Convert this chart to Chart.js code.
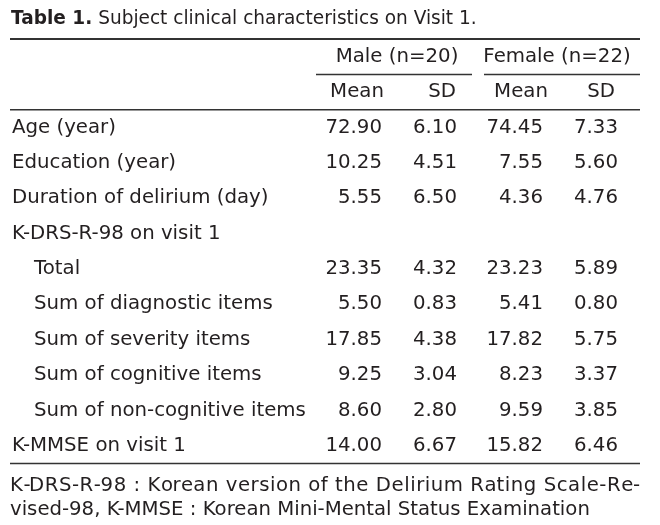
<!DOCTYPE html>
<html>
<head>
<meta charset="utf-8">
<script src="https://cdn.jsdelivr.net/npm/chart.js@4.4.1/dist/chart.umd.min.js"></script>
<style>
  body { margin: 0; background: #fff; }
  canvas { display: block; }
</style>
</head>
<body>
<canvas id="tableChart" width="660" height="525"></canvas>
<script>
// table contents
let rowLabels = ["Age (year)", "Education (year)", "Duration of delirium (day)", "K-DRS-R-98 on visit 1",
    "Total", "Sum of diagnostic items", "Sum of severity items", "Sum of cognitive items",
    "Sum of non-cognitive items", "K-MMSE on visit 1"];
let indented = [false, false, false, false, true, true, true, true, true, false];
let maleMean   = [72.90, 10.25, 5.55, null, 23.35, 5.50, 17.85, 9.25, 8.60, 14.00];
let maleSD     = [6.10, 4.51, 6.50, null, 4.32, 0.83, 4.38, 3.04, 2.80, 6.67];
let femaleMean = [74.45, 7.55, 4.36, null, 23.23, 5.41, 17.82, 8.23, 9.59, 15.82];
let femaleSD   = [7.33, 5.60, 4.76, null, 5.89, 0.80, 5.75, 3.37, 3.85, 6.46];
let groups = ["Male (n=20)", "Female (n=22)"];
let subHeads = ["Mean", "SD", "Mean", "SD"];
let titleBold = "Table 1.";
let titleText = " Subject clinical characteristics on Visit 1.";
let footLine1 = "K-DRS-R-98 : Korean version of the Delirium Rating Scale-Re-";
let footLine2 = "vised-98, K-MMSE : Korean Mini-Mental Status Examination";

// layout (x positions in table units = pixels from left)
let colRight = [382, 457, 543, 618];   // right edge of number columns
let headCenter = [357, 442, 521, 601];
let groupCenter = [397, 557];
let groupLine = [[316, 472], [484, 640]];
let fam = "'DejaVu Sans', sans-serif";
let ink = "#231f20";

let yLabels = ["group", "sub"].concat(rowLabels);

function fitSize(ctx, text, width, weight) {
    ctx.font = (weight || "") + " 100px " + fam;
    return 100 * width / ctx.measureText(text).width;
}

function toPoints(values, col) {
    let pts = [];
    values.forEach((v, i) => { if (v !== null) pts.push({ x: colRight[col], y: rowLabels[i], v: v }); });
    return pts;
}

// draw text char by char with extra spacing so it spans `width`
function spreadText(ctx, text, x, y, width) {
    let extra = (width - ctx.measureText(text).width) / (text.length - 1);
    let cx = x;
    for (let i = 0; i < text.length; i++) {
        ctx.fillText(text[i], cx, y);
        cx = x + ctx.measureText(text.slice(0, i + 1)).width + extra * (i + 1);
    }
}

let tablePlugin = {
    id: "tableText",
    afterDraw(chart) {
        let ctx = chart.ctx;
        let area = chart.chartArea;
        let ys = chart.scales.y, xs = chart.scales.x;
        let body = fitSize(ctx, "Sum of non-cognitive items", 272);
        ctx.save();
        ctx.fillStyle = ink;
        ctx.textBaseline = "middle";

        // title
        ctx.font = "bold 100px " + fam;
        let wb = ctx.measureText(titleBold).width;
        ctx.font = "100px " + fam;
        let wr = ctx.measureText(titleText).width;
        let ts = 100 * 466 / (wb + wr);
        ctx.textAlign = "left";
        ctx.font = "bold " + ts + "px " + fam;
        ctx.fillText(titleBold, 11, 19);
        let bw = ctx.measureText(titleBold).width;
        ctx.font = ts + "px " + fam;
        ctx.fillText(titleText, 11 + bw, 19);

        // header rows
        ctx.font = body + "px " + fam;
        ctx.textAlign = "center";
        groups.forEach((g, i) => ctx.fillText(g, xs.getPixelForValue(groupCenter[i]), ys.getPixelForValue(0)));
        subHeads.forEach((h, i) => ctx.fillText(h, xs.getPixelForValue(headCenter[i]), ys.getPixelForValue(1)));

        // row labels
        ctx.textAlign = "left";
        rowLabels.forEach((r, i) => {
            ctx.fillText(r, indented[i] ? 34 : 12, ys.getPixelForValue(i + 2));
        });

        // cell values at the dataset points
        ctx.textAlign = "right";
        chart.data.datasets.forEach((ds, di) => {
            chart.getDatasetMeta(di).data.forEach((el, j) => {
                ctx.fillText(ds.data[j].v.toFixed(2), el.x, el.y);
            });
        });

        // rules
        ctx.strokeStyle = "#333";
        let band = (ys.getPixelForValue(1) - ys.getPixelForValue(0));
        ctx.lineWidth = 2;
        ctx.beginPath(); ctx.moveTo(area.left, area.top); ctx.lineTo(area.right, area.top); ctx.stroke();
        ctx.lineWidth = 1.5;
        let yg = ys.getPixelForValue(0) + band / 2;
        groupLine.forEach(l => {
            ctx.beginPath(); ctx.moveTo(xs.getPixelForValue(l[0]), yg); ctx.lineTo(xs.getPixelForValue(l[1]), yg); ctx.stroke();
        });
        let yh = ys.getPixelForValue(1) + band / 2;
        ctx.beginPath(); ctx.moveTo(area.left, yh); ctx.lineTo(area.right, yh); ctx.stroke();
        ctx.beginPath(); ctx.moveTo(area.left, area.bottom); ctx.lineTo(area.right, area.bottom); ctx.stroke();

        // footnote: second line sets the size, first line is spread to full width
        let fs = fitSize(ctx, footLine2, 580);
        ctx.font = fs + "px " + fam;
        ctx.textAlign = "left";
        ctx.textBaseline = "alphabetic";
        spreadText(ctx, footLine1, area.left, 491, area.right - area.left);
        ctx.fillText(footLine2, area.left, 515);
        ctx.restore();
    }
};

let ctx = document.getElementById("tableChart").getContext("2d");
let tableChart = new Chart(ctx, {
    type: "scatter",
    data: {
        datasets: [
            { label: "Male Mean", data: toPoints(maleMean, 0) },
            { label: "Male SD", data: toPoints(maleSD, 1) },
            { label: "Female Mean", data: toPoints(femaleMean, 2) },
            { label: "Female SD", data: toPoints(femaleSD, 3) }
        ]
    },
    options: {
        responsive: false,
        animation: false,
        events: [],
        layout: { padding: { top: 39, bottom: 61.5, left: 10, right: 20 } },
        elements: { point: { radius: 0, hoverRadius: 0 } },
        scales: {
            x: { type: "linear", min: 10, max: 640, display: false },
            y: { type: "category", labels: yLabels, offset: true, display: false }
        },
        plugins: { legend: { display: false }, tooltip: { enabled: false } }
    },
    plugins: [tablePlugin]
});
</script>
</body>
</html>
